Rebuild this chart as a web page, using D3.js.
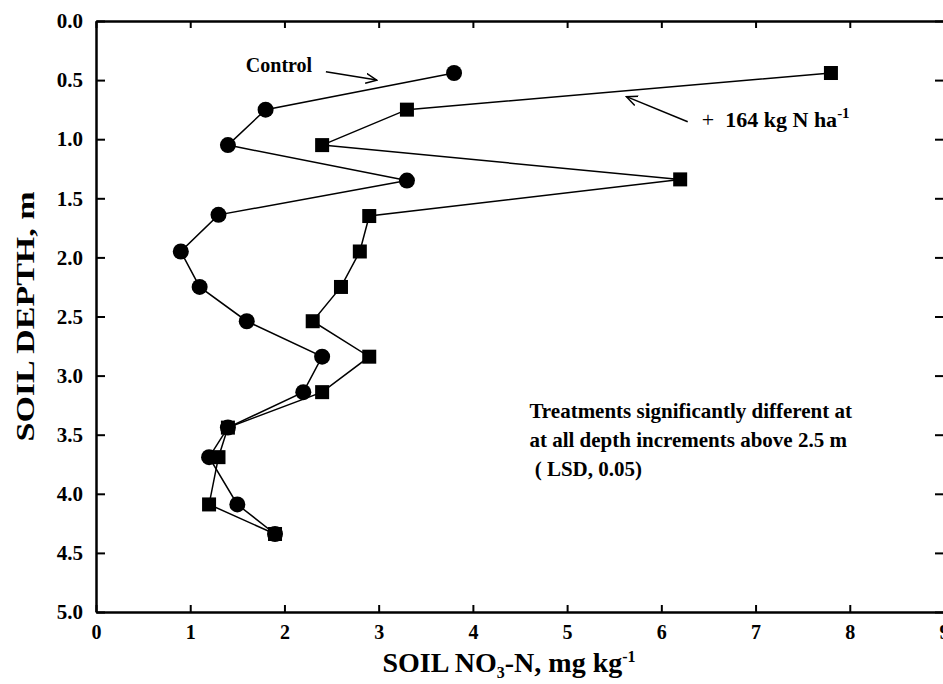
<!DOCTYPE html>
<html>
<head>
<meta charset="utf-8">
<script src="https://cdn.jsdelivr.net/npm/d3@7"></script>
<style>
  body { margin: 0; background: #fff; }
  text { font-family: "Liberation Serif", "Times New Roman", serif; font-weight: bold; fill: #000; }
</style>
</head>
<body>
<svg id="chart" width="943" height="684"></svg>
<script>
// soil depth (m) at each sampling increment
var depthControl = [0.44, 0.75, 1.05, 1.35, 1.64, 1.95, 2.25, 2.54, 2.84, 3.14, 3.44, 3.69, 4.09, 4.34];
var no3Control   = [3.8, 1.8, 1.4, 3.3, 1.3, 0.9, 1.1, 1.6, 2.4, 2.2, 1.4, 1.2, 1.5, 1.9];
var depthN164    = [0.44, 0.75, 1.05, 1.34, 1.65, 1.95, 2.25, 2.54, 2.84, 3.14, 3.44, 3.69, 4.09, 4.34];
var no3N164      = [7.8, 3.3, 2.4, 6.2, 2.9, 2.8, 2.6, 2.3, 2.9, 2.4, 1.4, 1.3, 1.2, 1.9];
var xTicks = [0, 1, 2, 3, 4, 5, 6, 7, 8, 9];
var yTicks = [0, 0.5, 1, 1.5, 2, 2.5, 3, 3.5, 4, 4.5, 5];

var svg = d3.select('#chart');

var x = d3.scaleLinear().domain([0, 9]).range([96, 944]);
var y = d3.scaleLinear().domain([0, 5]).range([21, 612]);

// axes, ticks pointing inward
var axisStyle = function(g, size) {
  g.attr('font-family', null);
  g.select('.domain').attr('stroke', '#000').attr('stroke-width', 2.5);
  g.selectAll('.tick line').attr('stroke', '#000').attr('stroke-width', 2);
  g.selectAll('.tick text').style('font-size', (size || 18) + 'px').attr('fill', '#000');
};

svg.append('g')
  .attr('transform', 'translate(0,' + y(5) + ')')
  .call(d3.axisBottom(x).tickValues(xTicks).tickFormat(d3.format('d'))
    .tickSizeInner(-7).tickSizeOuter(0).tickPadding(13))
  .call(axisStyle, 20);

svg.append('g')
  .attr('transform', 'translate(' + x(0) + ',0)')
  .call(d3.axisLeft(y).tickValues(yTicks).tickFormat(d3.format('.1f'))
    .tickSizeInner(-9).tickSizeOuter(0).tickPadding(13))
  .call(axisStyle, 21);

svg.append('g')
  .attr('transform', 'translate(0,' + y(0) + ')')
  .call(d3.axisTop(x).tickValues(xTicks).tickFormat('')
    .tickSizeInner(-7).tickSizeOuter(0))
  .call(axisStyle);

svg.append('g')
  .attr('transform', 'translate(' + x(9) + ',0)')
  .call(d3.axisRight(y).tickValues(yTicks).tickFormat('')
    .tickSizeInner(-9).tickSizeOuter(0))
  .call(axisStyle);

// series
var line = d3.line().x(function(d) { return x(d[0]); }).y(function(d) { return y(d[1]); });
var ctrl = d3.zip(no3Control, depthControl);
var nTrt = d3.zip(no3N164, depthN164);

svg.append('path').attr('d', line(nTrt))
  .attr('fill', 'none').attr('stroke', '#000').attr('stroke-width', 1.5);
svg.append('path').attr('d', line(ctrl))
  .attr('fill', 'none').attr('stroke', '#000').attr('stroke-width', 1.5);

svg.selectAll('rect.n164').data(nTrt).enter().append('rect')
  .attr('class', 'n164')
  .attr('x', function(d) { return x(d[0]) - 7; })
  .attr('y', function(d) { return y(d[1]) - 7; })
  .attr('width', 14).attr('height', 14)
  .attr('fill', '#000');

svg.selectAll('circle.ctrl').data(ctrl).enter().append('circle')
  .attr('class', 'ctrl')
  .attr('cx', function(d) { return x(d[0]); })
  .attr('cy', function(d) { return y(d[1]); })
  .attr('r', 8)
  .attr('fill', '#000');

// titles
svg.append('text')
  .attr('transform', 'translate(34,' + y(2.5) + ') rotate(-90)')
  .attr('text-anchor', 'middle')
  .attr('textLength', 250).attr('lengthAdjust', 'spacingAndGlyphs')
  .style('font-size', '25px')
  .text('SOIL DEPTH, m');

var xt = svg.append('text')
  .attr('x', 509).attr('y', 672)
  .attr('text-anchor', 'middle')
  .style('font-size', '28px');
xt.append('tspan').text('SOIL NO');
xt.append('tspan').attr('dy', 6).style('font-size', '16px').text('3');
xt.append('tspan').attr('dy', -6).text('-N, mg kg');
xt.append('tspan').attr('dy', -10).style('font-size', '16px').text('-1');

// annotations
svg.append('defs').append('marker')
  .attr('id', 'arr').attr('viewBox', '0 0 12 12')
  .attr('refX', 11).attr('refY', 6)
  .attr('markerWidth', 12).attr('markerHeight', 12)
  .attr('markerUnits', 'userSpaceOnUse')
  .attr('orient', 'auto')
  .append('path').attr('d', 'M0,1 L11,6 L0,11')
  .attr('fill', 'none').attr('stroke', '#000').attr('stroke-width', 1.5);

svg.append('text')
  .attr('x', x(1.59)).attr('y', y(0.43))
  .style('font-size', '20px')
  .text('Control');
svg.append('line')
  .attr('x1', x(2.44)).attr('y1', y(0.43))
  .attr('x2', x(2.98)).attr('y2', y(0.50))
  .attr('stroke', '#000').attr('stroke-width', 1.5)
  .attr('marker-end', 'url(#arr)');

var nt = svg.append('text')
  .attr('x', x(6.43)).attr('y', y(0.895))
  .attr('xml:space', 'preserve')
  .style('font-size', '22px');
nt.append('tspan').style('font-weight', 'normal').text('+  ');
nt.append('tspan').text('164 kg N ha');
nt.append('tspan').attr('dy', -9).style('font-size', '15px').text('-1');
svg.append('line')
  .attr('x1', x(6.28)).attr('y1', y(0.852))
  .attr('x2', x(5.63)).attr('y2', y(0.64))
  .attr('stroke', '#000').attr('stroke-width', 1.5)
  .attr('marker-end', 'url(#arr)');

var noteLines = ['Treatments significantly different at',
                 'at all depth increments above 2.5 m',
                 ' ( LSD, 0.05)'];
svg.selectAll('text.note').data(noteLines).enter().append('text')
  .attr('class', 'note')
  .attr('x', x(4.6))
  .attr('y', function(d, i) { return y(3.36) + i * 29; })
  .attr('xml:space', 'preserve')
  .style('font-size', '21px')
  .text(function(d) { return d; });
</script>
</body>
</html>
